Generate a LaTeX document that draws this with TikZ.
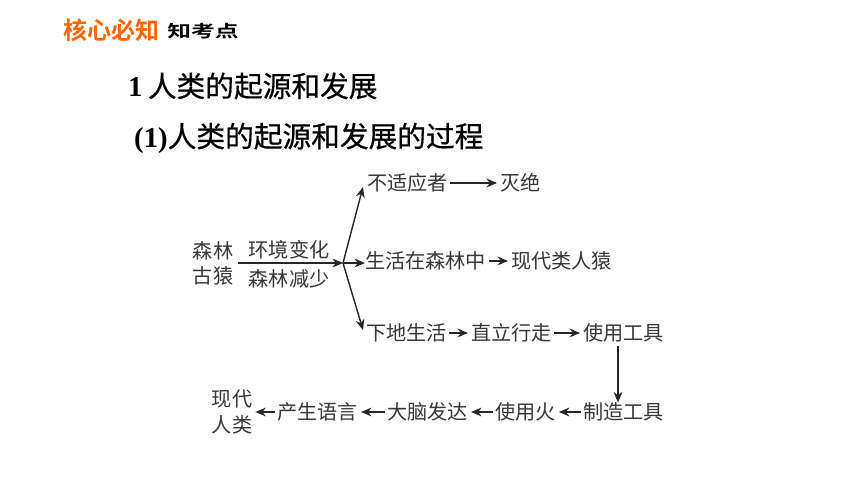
\documentclass[tikz,border=0pt]{standalone}
\usepackage{fontspec}
\usepackage{xcolor}
\usetikzlibrary{arrows.meta}
\setmainfont{Liberation Serif}
\newfontfamily\cjk{Noto Sans CJK SC}
\newfontfamily\cjktitle[FakeBold=0.6]{Noto Sans CJK SC}
\newfontfamily\cjkbold{Noto Sans CJK SC Bold}
\definecolor{headorange}{RGB}{255,102,0}
\definecolor{flowgray}{RGB}{55,55,55}
\tikzset{
    flowtext/.style={inner sep=0pt, text=flowgray, font=\cjk\fontsize{17.2pt}{21.5pt}\selectfont},
    hubarrow/.style={-{Stealth[length=9pt,width=7.5pt]}, draw=flowgray!70!black, line width=1.2pt},
    flowarrow/.style={hubarrow, shorten >=2.5pt, shorten <=2pt},
    titletext/.style={inner sep=0pt, text=black, font=\fontsize{24.5pt}{29pt}\selectfont\bfseries}
}

\begin{document}
\begin{tikzpicture}[x=0.03cm, y=-0.03cm]
    \useasboundingbox[fill=white] (0,0) rectangle (860,484);
    % heading
    \node (head) at (63, 30) [anchor=west, inner sep=0pt, text=headorange, font=\cjkbold\fontsize{20.5pt}{24pt}\selectfont] {核心必知};
    \node (exam) at (167, 31) [anchor=west, inner sep=0pt, xscale=1.42, font=\cjkbold\fontsize{14.3pt}{17pt}\selectfont] {知考点};
    \node (sec) at (128, 86) [anchor=west, titletext] {1\hspace{4.5pt}{\mdseries\cjktitle 人类的起源和发展}};
    \node (sub) at (134, 138) [anchor=west, titletext] {(1){\mdseries\cjktitle 人类的起源和发展的过程}};

    % first rows
    \node (ape) at (213, 263) [flowtext, align=center] {森林\\古猿};
    \node (change) at (289, 250) [flowtext] {环境变化};
    \node (less) at (289, 279) [flowtext] {森林减少};
    \coordinate (hub) at (343, 263);
    \coordinate (start) at (238, 263);
    \node (unfit) at (367, 183) [anchor=west, flowtext] {不适应者};
    \node (gone) at (500, 183) [anchor=west, flowtext] {灭绝};
    \node (forest) at (365, 261) [anchor=west, flowtext] {生活在森林中};
    \node (apes) at (511, 261) [anchor=west, flowtext] {现代类人猿};
    \node (ground) at (366, 333) [anchor=west, flowtext] {下地生活};
    \node (walk) at (471, 333) [anchor=west, flowtext] {直立行走};
    \node (use) at (583, 333) [anchor=west, flowtext] {使用工具};

    % bottom row
    \node (make) at (583, 412) [anchor=west, flowtext] {制造工具};
    \node (fire) at (495, 412) [anchor=west, flowtext] {使用火};
    \node (brain) at (387, 412) [anchor=west, flowtext] {大脑发达};
    \node (speech) at (277, 412) [anchor=west, flowtext] {产生语言};
    \node (human) at (232, 412) [flowtext, align=center] {现代\\人类};

    \draw [hubarrow] (start) -- (hub);
    \draw [hubarrow] (hub) -- ([shift={(-4,4)}]unfit.west);
    \draw [hubarrow] (hub) -- (forest.west |- hub);
    \draw [hubarrow] (hub) -- ([shift={(-3,-3)}]ground.west);
    \draw [flowarrow] (unfit) -- (gone);
    \draw [flowarrow] (forest) -- (apes);
    \draw [flowarrow] (ground) -- (walk);
    \draw [flowarrow] (walk) -- (use);
    \draw [hubarrow, shorten <=3pt] (use.south -| 618,0) -- (make.north -| 618,0);
    \draw [flowarrow] (make) -- (fire);
    \draw [flowarrow] (fire) -- (brain);
    \draw [flowarrow] (brain) -- (speech);
    \draw [flowarrow] (speech) -- (human);
\end{tikzpicture}
\end{document}
